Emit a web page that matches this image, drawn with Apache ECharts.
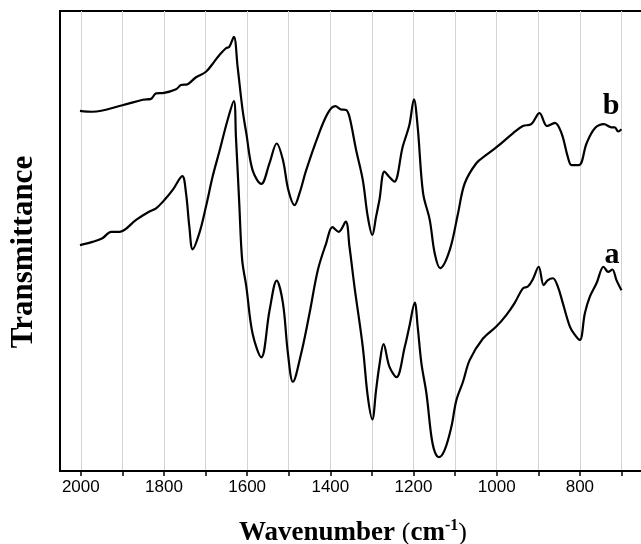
<!DOCTYPE html>
<html>
<head>
<meta charset="utf-8">
<script src="https://cdn.jsdelivr.net/npm/echarts@6/dist/echarts.min.js"></script>
<style>
  html, body { margin: 0; padding: 0; background: #fff; overflow: hidden; }
  #chart { width: 641px; height: 544px; }
</style>
</head>
<body>
<div id="chart"></div>
<script>
// FTIR spectra, wavenumber (cm-1) vs. transmittance (offset, arbitrary units)
const waveB = [2002, 1972, 1900, 1851, 1831, 1819, 1800, 1771, 1759, 1743, 1723, 1699, 1679, 1667, 1651, 1643, 1632, 1623, 1611, 1602, 1587, 1566, 1546, 1529, 1514, 1501, 1486, 1474, 1458, 1430, 1406, 1388, 1374, 1362, 1354, 1338, 1322, 1310, 1299, 1290, 1282, 1270, 1258, 1246, 1226, 1210, 1199, 1190, 1177, 1161, 1149, 1136, 1113, 1093, 1077, 1049, 1025, 999, 961, 937, 917, 897, 879, 860, 844, 829, 820, 802, 784, 764, 742, 724, 716, 708, 700];
const transB = [78.3, 78.1, 79.5, 80.7, 80.9, 82.1, 82.2, 83.0, 83.9, 84.1, 85.6, 86.8, 89.0, 90.4, 91.9, 92.2, 94.4, 87.9, 78.5, 73.4, 65.4, 62.4, 67.0, 71.2, 67.6, 61.1, 57.8, 60.4, 65.4, 72.7, 77.8, 79.3, 78.6, 78.5, 77.0, 69.8, 63.3, 55.3, 51.3, 55.3, 58.9, 65.1, 63.9, 62.9, 70.5, 75.2, 80.8, 74.8, 60.4, 54.6, 47.3, 44.1, 48.0, 56.0, 62.5, 66.9, 68.7, 70.5, 73.4, 75.0, 75.4, 77.8, 75.0, 75.7, 73.4, 68.3, 66.5, 66.5, 71.2, 74.5, 75.4, 74.7, 74.7, 73.8, 74.3];

const waveA = [2002, 1972, 1948, 1927, 1907, 1867, 1835, 1819, 1799, 1779, 1756, 1747, 1739, 1731, 1715, 1699, 1683, 1667, 1647, 1632, 1627, 1619, 1612, 1602, 1587, 1566, 1546, 1529, 1514, 1502, 1490, 1470, 1450, 1430, 1410, 1395, 1380, 1363, 1354, 1342, 1322, 1310, 1299, 1290, 1282, 1272, 1258, 1241, 1221, 1210, 1197, 1190, 1181, 1169, 1157, 1149, 1139, 1125, 1109, 1097, 1081, 1065, 1033, 1001, 977, 957, 937, 925, 913, 899, 887, 877, 865, 853, 841, 824, 812, 800, 788, 776, 760, 743, 732, 722, 712, 700];
const transA = [49.1, 49.8, 50.6, 52.0, 52.0, 54.6, 56.4, 57.1, 58.9, 61.1, 64.1, 60.4, 53.1, 48.2, 51.7, 57.5, 64.0, 69.4, 76.3, 80.4, 72.7, 58.2, 45.9, 40.1, 29.9, 24.7, 35.0, 41.4, 36.5, 25.6, 19.4, 25.6, 34.3, 43.7, 49.5, 53.0, 52.0, 54.2, 48.8, 40.1, 27.0, 16.2, 11.2, 17.6, 23.0, 27.6, 22.7, 20.4, 27.0, 31.4, 36.6, 31.4, 23.4, 16.9, 7.5, 4.2, 3.0, 4.6, 9.6, 15.4, 19.4, 24.1, 28.8, 31.4, 33.9, 36.5, 39.7, 40.1, 41.7, 44.4, 40.4, 41.5, 41.9, 40.1, 36.5, 31.4, 29.6, 28.5, 34.3, 37.9, 40.8, 44.4, 43.3, 43.8, 41.5, 39.3];

// axis ticks every 100 cm-1, labels every 200 cm-1
const tickValues = [700, 800, 900, 1000, 1100, 1200, 1300, 1400, 1500, 1600, 1700, 1800, 1900, 2000];
const labelValues = [800, 1000, 1200, 1400, 1600, 1800, 2000];

const SERIF = '"Liberation Serif", "Times New Roman", serif';
const SANS = '"Liberation Sans", Arial, sans-serif';

const zip = (xs, ys) => xs.map((x, i) => [x, ys[i]]);

const chart = echarts.init(document.getElementById('chart'), null, { renderer: 'canvas' });

chart.setOption({
  backgroundColor: '#ffffff',
  animation: false,
  grid: {
    left: 60, top: 11, width: 586, height: 460,
    outerBoundsMode: 'none',
    show: true, borderColor: '#000', borderWidth: 2, backgroundColor: 'transparent'
  },
  xAxis: {
    type: 'value',
    min: 641, max: 2050,
    inverse: true,
    axisLine: { show: true, lineStyle: { color: '#000', width: 2 } },
    axisTick: { show: true, inside: false, length: 5, customValues: tickValues,
                lineStyle: { color: '#000', width: 1.5 } },
    axisLabel: { show: true, customValues: labelValues, color: '#000',
                 fontFamily: SANS, fontSize: 17, margin: 8,
                 formatter: v => String(v) },
    splitLine: { show: true, lineStyle: { color: '#d4d4d4', width: 1 } }
  },
  yAxis: {
    type: 'value',
    min: 0, max: 100,
    axisLine: { show: true, lineStyle: { color: '#000', width: 2 } },
    axisTick: { show: false },
    axisLabel: { show: false },
    splitLine: { show: false }
  },
  series: [
    {
      name: 'b', type: 'line', data: zip(waveB, transB),
      showSymbol: false, smooth: 0.35,
      lineStyle: { color: '#000', width: 2.2 }
    },
    {
      name: 'a', type: 'line', data: zip(waveA, transA),
      showSymbol: false, smooth: 0.35,
      lineStyle: { color: '#000', width: 2.2 }
    }
  ],
  graphic: [
    {
      type: 'text', x: 611, y: 106, z: 100,
      style: { text: 'b', font: 'bold 30px ' + SERIF, fill: '#000',
               textAlign: 'center', textVerticalAlign: 'middle' }
    },
    {
      type: 'text', x: 612, y: 255, z: 100,
      style: { text: 'a', font: 'bold 30px ' + SERIF, fill: '#000',
               textAlign: 'center', textVerticalAlign: 'middle' }
    },
    {
      type: 'text', x: 24, y: 252, rotation: Math.PI / 2,
      style: { text: 'Transmittance', font: 'bold 31px ' + SERIF, fill: '#000',
               textAlign: 'center', textVerticalAlign: 'middle' }
    },
    {
      type: 'text', x: 353, y: 533,
      style: {
        text: '{t|Wavenumber }{p|(}{t|cm}{s|-1}{p|)}',
        textAlign: 'center', textVerticalAlign: 'middle',
        rich: {
          t: { fontFamily: SERIF, fontWeight: 'bold', fontSize: 27, color: '#000', lineHeight: 30 },
          p: { fontFamily: SERIF, fontWeight: 'normal', fontSize: 26, color: '#000', lineHeight: 30 },
          s: { fontFamily: SERIF, fontWeight: 'bold', fontSize: 16, color: '#000', lineHeight: 30, verticalAlign: 'top' }
        }
      }
    }
  ]
});
</script>
</body>
</html>
